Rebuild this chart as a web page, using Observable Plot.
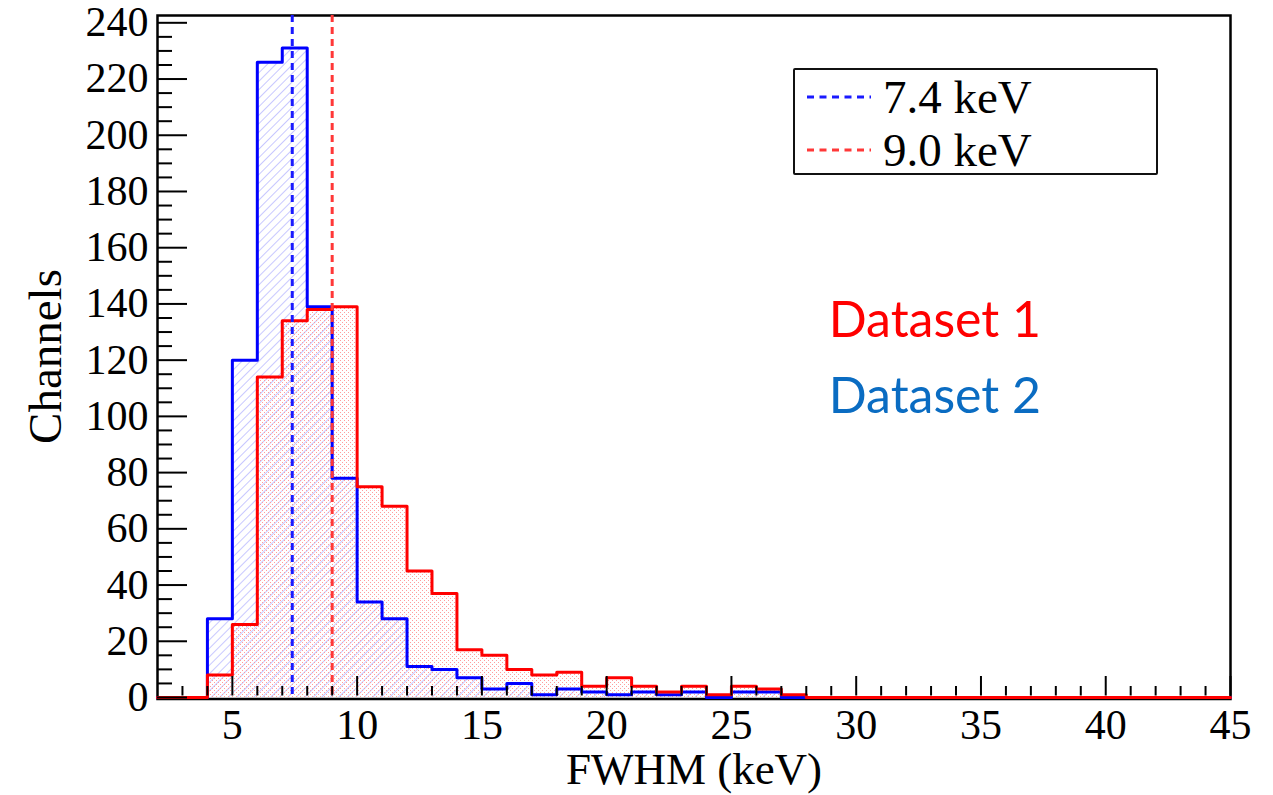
<!DOCTYPE html>
<html>
<head>
<meta charset="utf-8">
<script src="https://cdn.jsdelivr.net/npm/d3@7"></script>
<script src="https://cdn.jsdelivr.net/npm/@observablehq/plot@0.6"></script>
<style>
  html, body { margin: 0; padding: 0; background: white; }
  #wrap { position: relative; width: 1273px; height: 795px; overflow: hidden; }
  #legend {
    position: absolute; left: 793px; top: 68px; width: 361px; height: 103px;
    border: 2.5px solid #111; border-radius: 2px; background: white;
    font-family: 'Liberation Serif', 'Times New Roman', serif; font-size: 47px; color: #000;
  }
  .row { position: absolute; left: 0; height: 50px; display: flex; align-items: center; }
  .row svg { margin-left: 12px; margin-right: 12px; }
</style>
</head>
<body>
<div id="wrap">
  <div id="chart"></div>
  <div id="legend"></div>
</div>
<script>
// ---- data ----
const binEdges = [2,3,4,5,6,7,8,9,10,11,12,13,14,15,16,17,18,19,20,21,22,23,24,25,26,27,28,29,30,31,32,33,34,35,36,37,38,39,40,41,42,43,44,45];
// Dataset 2 (blue), counts per 1 keV bin starting at 2 keV
const blueCounts = [0,0,28,120,226,231,139,78,34,28,11,10,7,3,5,1,3,2,1,2,1,2,0,2,2,0,0,0,0,0,0,0,0,0,0,0,0,0,0,0,0,0,0];
// Dataset 1 (red)
const redCounts  = [0,0,8,26,114,134,138,139,75,68,45,37,17,15,10,8,9,4,7,4,2,4,1,4,3,1,0,0,0,0,0,0,0,0,0,0,0,0,0,0,0,0,0];
const meanValues = [7.4, 9.0];
const legendLabels = ["7.4 keV", "9.0 keV"];
const xTicks = [5,10,15,20,25,30,35,40,45];
const yTicks = [0,20,40,60,80,100,120,140,160,180,200,220,240];
const xTitle = ["FWHM (keV)"];
const yTitle = ["Channels"];
const dsLabels = ["Dataset 1", "Dataset 2"];
const dsX = [28.9, 28.9];
const dsY = [134, 107];

// ---- layout ----
const W = 1273, H = 795;
const mL = 157, mR = 43, mT = 15, mB = 98;
const innerW = W - mL - mR, innerH = H - mT - mB;

const toPts = counts => binEdges.map((e, i) => ({x: e, y: counts[Math.min(i, counts.length - 1)]}));
const bluePts = toPts(blueCounts);
const redPts = toPts(redCounts);
const xMinor = d3.range(3, 45, 1).filter(v => v % 5 !== 0);
const yMinor = d3.range(0, 241, 5).filter(v => v % 20 !== 0);
const ds = dsLabels.map((t, i) => ({t, x: dsX[i], y: dsY[i], c: i === 0 ? "#ff0000" : "#0a6cc2"}));

const chart = Plot.plot({
  width: W, height: H,
  marginLeft: mL, marginRight: mR, marginTop: mT, marginBottom: mB,
  style: {fontFamily: "'Liberation Serif', 'Times New Roman', serif", fontSize: "42px", background: "white", color: "black"},
  x: {domain: [2, 45], ticks: xTicks, tickSize: 0, tickPadding: 12, label: null},
  y: {domain: [0, 242.6], ticks: yTicks, tickSize: 0, tickPadding: 9, label: null},
  marks: [
    Plot.areaY(bluePts, {x: "x", y: "y", curve: "step-after", fill: "url(#hatchBlue)"}),
    Plot.areaY(redPts, {x: "x", y: "y", curve: "step-after", fill: "url(#dotsRed)"}),
    Plot.frame({stroke: "#000", strokeWidth: 2.5, insetBottom: -1.5}),
    Plot.lineY(bluePts, {x: "x", y: "y", curve: "step-after", stroke: "#0000ff", strokeWidth: 3}),
    Plot.lineY(redPts, {x: "x", y: "y", curve: "step-after", stroke: "#ff0000", strokeWidth: 3}),
    Plot.ruleX([meanValues[0]], {x: d => d, stroke: "#1a1aff", strokeWidth: 3, strokeDasharray: "7,5"}),
    Plot.ruleX([meanValues[1]], {x: d => d, stroke: "#ff3838", strokeWidth: 3, strokeDasharray: "7,5"}),
    Plot.tickX(xMinor, {x: d => d, insetTop: innerH - 11, insetBottom: 1.5, stroke: "#000", strokeWidth: 2}),
    Plot.tickX(xTicks, {x: d => d, insetTop: innerH - 21, insetBottom: 1.5, stroke: "#000", strokeWidth: 2}),
    Plot.tickY(yMinor, {y: d => d, insetRight: innerW - 15, stroke: "#000", strokeWidth: 2}),
    Plot.tickY(yTicks, {y: d => d, insetRight: innerW - 30, stroke: "#000", strokeWidth: 2}),
    Plot.text(xTitle, {text: d => d, frameAnchor: "bottom", dy: 72, fontSize: 45, lineAnchor: "middle"}),
    Plot.text(yTitle, {text: d => d, frameAnchor: "left", textAnchor: "middle", dx: -112, rotate: -90, fontSize: 47, lineAnchor: "middle"}),
    Plot.text(ds, {x: "x", y: "y", text: "t", fill: "c", textAnchor: "start", fontFamily: "Lato, 'Noto Sans', sans-serif", fontSize: 50, lineAnchor: "middle"})
  ]
});

// patterns
const ns = "http://www.w3.org/2000/svg";
const defs = document.createElementNS(ns, "defs");
defs.innerHTML = `
  <pattern id="hatchBlue" patternUnits="userSpaceOnUse" width="6" height="6" patternTransform="rotate(45)">
    <line x1="0" y1="0" x2="0" y2="6" stroke="#9a9aff" stroke-width="1.1"/>
  </pattern>
  <pattern id="dotsRed" patternUnits="userSpaceOnUse" width="4" height="4">
    <rect x="0" y="0" width="1" height="1" fill="#ff9c9c"/>
    <rect x="2" y="2" width="1" height="1" fill="#ff9c9c"/>
  </pattern>`;
chart.insertBefore(defs, chart.firstChild);
document.getElementById("chart").appendChild(chart);

// legend
const legend = document.getElementById("legend");
const legColors = ["#1a1aff", "#ff3838"];
legendLabels.forEach((lab, i) => {
  const row = document.createElement("div");
  row.className = "row";
  row.style.top = (i === 0 ? 2 : 55) + "px";
  row.innerHTML = `<svg width="64" height="10"><line x1="0" y1="5" x2="64" y2="5" stroke="${legColors[i]}" stroke-width="3" stroke-dasharray="7,5.5"/></svg><span>${lab}</span>`;
  legend.appendChild(row);
});
</script>
</body>
</html>
